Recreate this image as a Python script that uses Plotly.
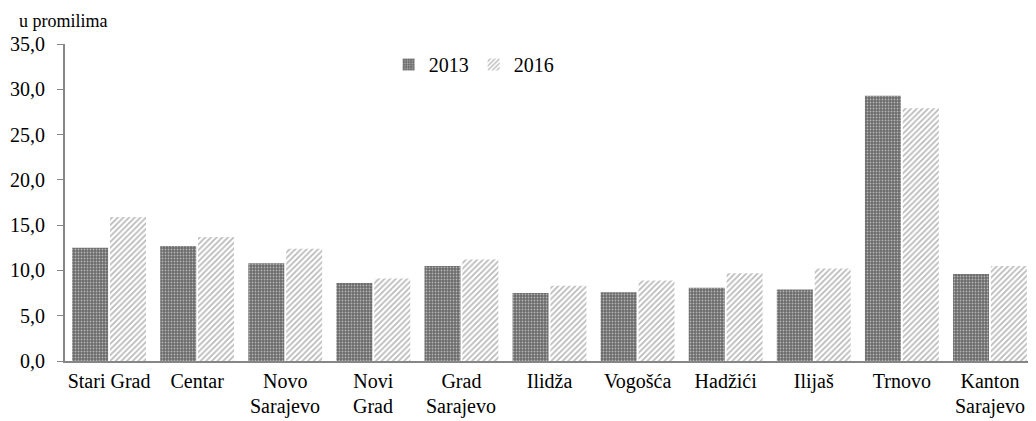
import plotly.graph_objects as go

categories = ["Stari Grad", "Centar", "Novo<br>Sarajevo", "Novi<br>Grad", "Grad<br>Sarajevo",
              "Ilidža", "Vogošća", "Hadžići", "Ilijaš", "Trnovo", "Kanton<br>Sarajevo"]
v2013 = [12.5, 12.7, 10.8, 8.6, 10.5, 7.5, 7.6, 8.1, 7.9, 29.3, 9.6]
v2016 = [15.9, 13.7, 12.4, 9.1, 11.2, 8.3, 8.9, 9.7, 10.2, 27.9, 10.5]
tick_vals = [0, 5, 10, 15, 20, 25, 30, 35]
tick_text = ["0,0", "5,0", "10,0", "15,0", "20,0", "25,0", "30,0", "35,0"]

FONT = "Liberation Serif"

first_lines = [c.split("<br>")[0] for c in categories]
second_lines = [c.split("<br>")[1] if "<br>" in c else "" for c in categories]

fig = go.Figure()
fig.add_trace(go.Bar(
    x=categories, y=v2013, name="2013",
    marker=dict(color="#6a6a6a", line=dict(width=0),
                pattern=dict(shape=".", bgcolor="#6a6a6a", fgcolor="#ffffff",
                             size=3, solidity=0.3, fillmode="overlay")),
))
fig.add_trace(go.Bar(
    x=categories, y=v2016, name="2016",
    marker=dict(color="#ffffff", line=dict(width=0),
                pattern=dict(shape="/", bgcolor="#ffffff", fgcolor="#707070",
                             size=4, solidity=0.4, fillmode="overlay")),
))

annotations = [dict(text="u promilima", xref="paper", yref="paper",
                    x=-0.05, y=1.035, xanchor="left", yanchor="bottom",
                    showarrow=False, font=dict(family=FONT, size=18))]
for c, s in zip(categories, second_lines):
    if s:
        annotations.append(dict(text=s, xref="x", yref="paper", x=c, y=-0.143,
                                xanchor="center", yanchor="middle", showarrow=False,
                                font=dict(family=FONT, size=20)))

fig.update_layout(
    width=1036, height=421,
    margin=dict(l=57, r=10, t=36, b=68, autoexpand=False),
    paper_bgcolor="white", plot_bgcolor="white",
    font=dict(family=FONT, size=20, color="#000000"),
    barmode="group", bargap=0.14, bargroupgap=0.05,
    showlegend=True,
    legend=dict(orientation="h", x=0.334, y=0.935, xanchor="left", yanchor="middle",
                font=dict(family=FONT, size=20), itemwidth=30,
                bgcolor="rgba(0,0,0,0)", traceorder="normal"),
    annotations=annotations,
)
fig.update_yaxes(range=[0, 35], tickvals=tick_vals, ticktext=tick_text,
                 showline=True, linecolor="#868686", linewidth=2,
                 ticks="outside", ticklen=6, tickcolor="#868686",
                 ticklabelstandoff=8,
                 showgrid=False, zeroline=False,
                 tickfont=dict(family=FONT, size=20))
fig.update_xaxes(showline=True, linecolor="#868686", linewidth=2,
                 tickvals=categories, ticktext=first_lines,
                 ticks="", showgrid=False, ticklabelstandoff=1,
                 tickfont=dict(family=FONT, size=20))

fig.write_html("out.html")
